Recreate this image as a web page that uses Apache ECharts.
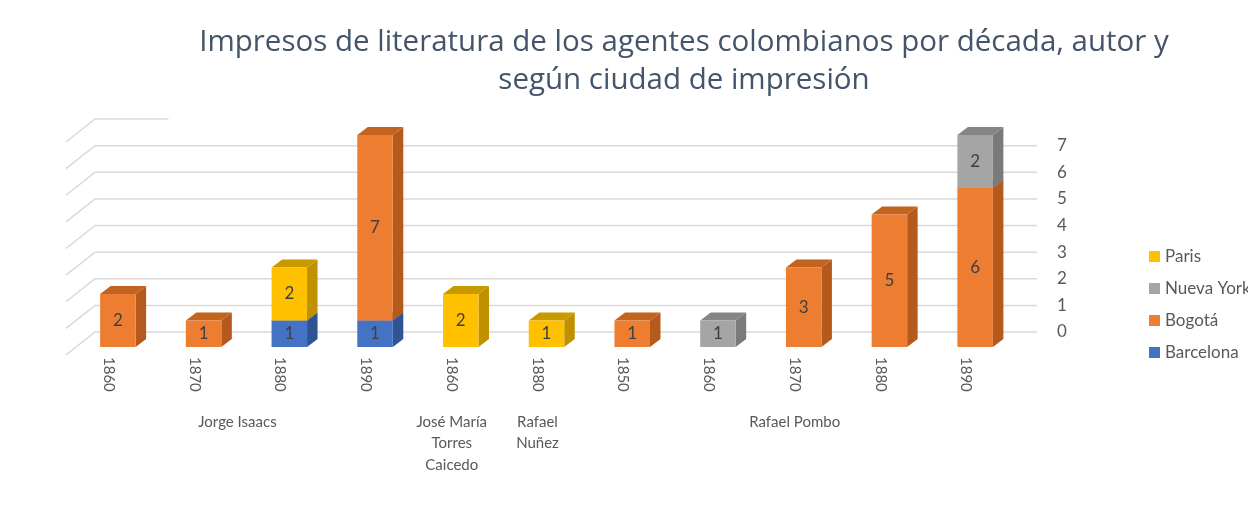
<!DOCTYPE html>
<html><head><meta charset="utf-8">
<script src="https://cdn.jsdelivr.net/npm/echarts@6/dist/echarts.min.js"></script>
<style>html,body{margin:0;padding:0;background:#fff}#c{width:1248px;height:506px}</style>
</head><body><div id="c"></div>
<script>
const years = ['1860','1870','1880','1890','1860','1880','1850','1860','1870','1880','1890'];
const authors = ['Jorge Isaacs','José María\nTorres\nCaicedo','Rafael\nNuñez','Rafael Pombo'];
const authorSpan = [[0,3],[4,4],[5,5],[6,10]];
const barcelona = [0,0,1,1,0,0,0,0,0,0,0];
const bogota    = [2,1,0,7,0,0,1,0,3,5,6];
const nuevaYork = [0,0,0,0,0,0,0,1,0,0,2];
const paris     = [0,0,2,0,2,1,0,0,0,0,0];
const yTicks = [0,1,2,3,4,5,6,7,8];
const legendOrder = ['Paris','Nueva York','Bogotá','Barcelona'];

const FONT = 'Lato, "Open Sans", sans-serif';
const stackDefs = [
  {name:'Barcelona', values:barcelona, color:'#4472C4', side:'#2E5495', top:'#36599A'},
  {name:'Bogotá', values:bogota, color:'#ED7D31', side:'#B55A1C', top:'#C2631F'},
  {name:'Nueva York', values:nuevaYork, color:'#A5A5A5', side:'#7A7A7A', top:'#858585'},
  {name:'Paris', values:paris, color:'#FFC000', side:'#BF9000', top:'#C99A00'}
];

function make3D(s){
  return function(params, api){
    const i = api.value(0), b = api.value(1), v = api.value(2);
    const p0 = api.coord([i, b]);
    const p1 = api.coord([i, b + v]);
    const band = api.size([1, 0])[0];
    const w = band * 0.414, dx = 10.5, dy = -8;
    const xl = p0[0] - w / 2, xr = p0[0] + w / 2, yb = p0[1], yt = p1[1];
    return {type:'group', children:[
      {type:'polygon', shape:{points:[[xr,yb],[xr+dx,yb+dy],[xr+dx,yt+dy],[xr,yt]]}, style:{fill:s.side}},
      {type:'polygon', shape:{points:[[xl,yt],[xl+dx,yt+dy],[xr+dx,yt+dy],[xr,yt]]}, style:{fill:s.top}},
      {type:'rect', shape:{x:xl, y:yt, width:w, height:yb-yt}, style:{fill:s.color}},
      {type:'text', style:{text:String(v), x:p0[0], y:(yb+yt)/2, align:'center', verticalAlign:'middle', fill:'#404040', font:'17px ' + FONT}}
    ]};
  };
}

const base = years.map(() => 0);
const barSeries = stackDefs.map(s => {
  const data = [];
  s.values.forEach((v, i) => { if (v > 0) data.push([i, base[i], v]); base[i] += v; });
  return {type:'custom', name:s.name, xAxisIndex:0, yAxisIndex:0, itemStyle:{color:s.color},
    encode:{x:0, y:2}, data:data, renderItem:make3D(s), z:5};
});

const wallSeries = {
  type:'custom', name:'wall', xAxisIndex:1, yAxisIndex:1, silent:true, z:1,
  encode:{x:0, y:1},
  data: yTicks.map(v => [0, v]),
  renderItem: function(params, api){
    const v = api.value(1);
    const a = api.coord([0, v]);
    const b = api.coord([v === yTicks[yTicks.length-1] ? 0.078 : 1, v]);
    return {type:'polyline', shape:{points:[[a[0]-29, a[1]+23], a, b]},
      style:{stroke:'#D9D9D9', lineWidth:1.5, fill:null}};
  }
};

const authorSeries = {
  type:'custom', name:'authors', xAxisIndex:3, yAxisIndex:2, silent:true,
  encode:{x:0, y:1},
  data: authorSpan.map((s, k) => [(s[0] + s[1]) / 2, 0, k]),
  renderItem: function(params, api){
    const p = api.coord([api.value(0), 0]);
    return {type:'text', style:{text:authors[api.value(2)], x:p[0], y:p[1]+64, align:'center', verticalAlign:'top',
      fill:'#595959', font:'15px ' + FONT, lineHeight:21.5}};
  }
};

const chart = echarts.init(document.getElementById('c'), null, {renderer:'canvas'});
chart.setOption({
  backgroundColor:'#ffffff',
  animation:false,
  title:{
    text:'Impresos de literatura de los agentes colombianos por década, autor y\nsegún ciudad de impresión',
    left:679, top:19, textAlign:'center',
    textStyle:{fontFamily:'"Open Sans", sans-serif', fontSize:29.5, fontWeight:'normal', color:'#44546A', lineHeight:38}
  },
  legend:{
    data:legendOrder, orient:'vertical', left:1144, top:243, itemWidth:11, itemHeight:11, itemGap:15,
    icon:'rect', textStyle:{fontFamily:FONT, fontSize:17, color:'#595959'}
  },
  grid:[
    {left:75, right:230, top:135, bottom:159},
    {left:95, right:211, top:119, bottom:174},
    {left:66, right:239, top:135, bottom:159}
  ],
  xAxis:[
    {type:'category', gridIndex:0, data:years, show:false},
    {type:'value', gridIndex:1, min:0, max:1, show:false},
    {type:'category', gridIndex:2, data:years, position:'bottom', axisLine:{show:false}, axisTick:{show:false},
      axisLabel:{rotate:-90, margin:10, fontFamily:FONT, fontSize:15, color:'#595959'}},
    {type:'value', gridIndex:2, min:-0.5, max:10.5, show:false, position:'top'}
  ],
  yAxis:[
    {type:'value', gridIndex:0, min:0, max:8, interval:1, show:false},
    {type:'value', gridIndex:1, min:0, max:8, interval:1, position:'right',
      axisLine:{show:false}, axisTick:{show:false}, splitLine:{show:false},
      axisLabel:{margin:20, fontFamily:FONT, fontSize:17, color:'#595959', formatter:v => v >= 8 ? '' : String(v)}},
    {type:'value', gridIndex:2, min:0, max:8, show:false}
  ],
  series:[wallSeries].concat(barSeries, [authorSeries])
});
</script></body></html>
